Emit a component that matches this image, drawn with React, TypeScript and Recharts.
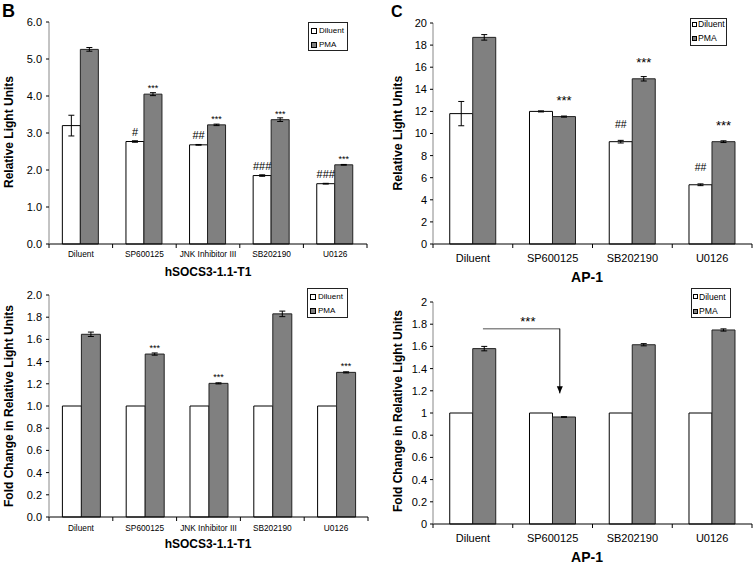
import React from 'react';
import { BarChart, Bar, XAxis, YAxis, ErrorBar, LabelList, ReferenceLine, ReferenceDot } from 'recharts';

// ---------- Panel B data ----------
const categoriesB = ['Diluent', 'SP600125', 'JNK Inhibitor III', 'SB202190', 'U0126'];
const rluDiluentB = [3.2, 2.77, 2.68, 1.85, 1.63];
const rluDiluentErrB = [0.28, 0.02, 0.01, 0.02, 0.01];
const rluPmaB = [5.26, 4.05, 3.22, 3.36, 2.14];
const rluPmaErrB = [0.05, 0.04, 0.02, 0.05, 0.01];
const rluSigDiluentB = ['', '#', '##', '###', '###'];
const rluSigPmaB = ['', '***', '***', '***', '***'];
const rluTicksB = [0, 1, 2, 3, 4, 5, 6];

const foldDiluentB = [1, 1, 1, 1, 1];
const foldPmaB = [1.646, 1.468, 1.204, 1.83, 1.303];
const foldPmaErrB = [0.02, 0.01, 0.005, 0.025, 0.005];
const foldSigPmaB = ['', '***', '***', '', '***'];
const foldTicks = [0, 0.2, 0.4, 0.6, 0.8, 1.0, 1.2, 1.4, 1.6, 1.8, 2.0];

// ---------- Panel C data ----------
const categoriesC = ['Diluent', 'SP600125', 'SB202190', 'U0126'];
const rluDiluentC = [11.8, 12.0, 9.26, 5.36];
const rluDiluentErrC = [1.1, 0.05, 0.12, 0.08];
const rluPmaC = [18.7, 11.53, 14.95, 9.26];
const rluPmaErrC = [0.25, 0.05, 0.2, 0.08];
const rluSigDiluentC = ['', '', '##', '##'];
const rluSigPmaC = ['', '***', '***', '***'];
const rluTicksC = [0, 2, 4, 6, 8, 10, 12, 14, 16, 18, 20];

const foldDiluentC = [1, 1, 1, 1];
const foldPmaC = [1.58, 0.964, 1.615, 1.748];
const foldPmaErrC = [0.02, 0.003, 0.01, 0.01];
// bracket annotation: from the Diluent/PMA bar to the SP600125 group
const bracketFromCat = 'Diluent';
const bracketToCat = 'SP600125';
const bracketY = 1.76;
const arrowTipY = 1.177;
const bracketText = '***';

const FONT = '"Liberation Sans", Arial, Helvetica, sans-serif';
const PMA_FILL = '#808080';
const CAT_GAP = 0.21;

const rowsRluB = categoriesB.map((name, i) => ({
  name, dil: rluDiluentB[i], dilErr: rluDiluentErrB[i], pma: rluPmaB[i], pmaErr: rluPmaErrB[i],
  dilSig: rluSigDiluentB[i], pmaSig: rluSigPmaB[i],
}));
const rowsFoldB = categoriesB.map((name, i) => ({
  name, dil: foldDiluentB[i], pma: foldPmaB[i], pmaErr: foldPmaErrB[i], pmaSig: foldSigPmaB[i],
}));
const rowsRluC = categoriesC.map((name, i) => ({
  name, dil: rluDiluentC[i], dilErr: rluDiluentErrC[i], pma: rluPmaC[i], pmaErr: rluPmaErrC[i],
  dilSig: rluSigDiluentC[i], pmaSig: rluSigPmaC[i],
}));
const rowsFoldC = categoriesC.map((name, i) => ({
  name, dil: foldDiluentC[i], pma: foldPmaC[i], pmaErr: foldPmaErrC[i],
}));

function makeCategoryTick(band: number, fontSize: number, dy: number, count: number) {
  return (props: any) => {
    const { x, y, payload, index } = props;
    const left = x - band / 2;
    const right = x + band / 2;
    return (
      <g>
        <line x1={left} y1={y} x2={left} y2={y + 4} stroke="#000" strokeWidth={1} />
        {index === count - 1 ? <line x1={right} y1={y} x2={right} y2={y + 4} stroke="#000" strokeWidth={1} /> : null}
        <text x={x} y={y + dy} textAnchor="middle" fontSize={fontSize} fontFamily={FONT} fill="#000">
          {payload.value}
        </text>
      </g>
    );
  };
}

function LegendBox({ left, top, width, height, fontSize, rows, pad, sq, gap }: any) {
  return (
    <div style={{
      position: 'absolute', left, top, width, height, border: '1px solid #222', boxSizing: 'border-box',
      background: '#fff', fontFamily: FONT, fontSize, color: '#000',
    }}>
      {[{ label: 'Diluent', fill: '#fff' }, { label: 'PMA', fill: PMA_FILL }].map((it, i) => (
        <div key={it.label} style={{ position: 'absolute', left: pad, top: rows[i] - fontSize / 2 - 2, display: 'flex', alignItems: 'center', lineHeight: `${fontSize + 2}px`, whiteSpace: 'nowrap' }}>
          <span style={{ display: 'inline-block', width: sq, height: sq, border: '1px solid #000', background: it.fill, marginRight: gap }} />
          <span>{it.label}</span>
        </div>
      ))}
    </div>
  );
}

function AxisTitleX({ x, y, text, size }: any) {
  return (
    <div style={{ position: 'absolute', left: x - 100, top: y - size / 2 - 1, width: 200, textAlign: 'center', fontFamily: FONT, fontWeight: 'bold', fontSize: size, lineHeight: `${size + 2}px` }}>{text}</div>
  );
}
function AxisTitleY({ x, y, text, size }: any) {
  return (
    <div style={{ position: 'absolute', left: x - 150, top: y - size / 2 - 1, width: 300, textAlign: 'center', fontFamily: FONT, fontWeight: 'bold', fontSize: size, lineHeight: `${size + 2}px`, transform: 'rotate(-90deg)', transformOrigin: '50% 50%', whiteSpace: 'nowrap' }}>{text}</div>
  );
}

const yTick = { fontSize: 11, fill: '#000', fontFamily: FONT };

export default function App() {
  const bandB = 318 / categoriesB.length;
  const bandC = 319 / categoriesC.length;
  // horizontal offset of the PMA bar centre from its category centre
  const pmaShiftC = bandC * (0.5 - CAT_GAP) / 2;
  const arrowShiftC = bandC * 0.09;
  return (
    <div style={{ position: 'absolute', left: 0, top: 0, width: 753, height: 564, background: '#fff', fontFamily: FONT, overflow: 'hidden' }}>
      {/* Top-left: B, RLU */}
      <div style={{ position: 'absolute', left: 0, top: 0 }}>
        <BarChart width={376} height={282} data={rowsRluB} margin={{ top: 22, right: 9, left: 9, bottom: 0 }} barCategoryGap={`${CAT_GAP * 100}%`} barGap={0}>
          <XAxis dataKey="name" height={38} interval={0} tickLine={false} tickSize={0} tickMargin={0} axisLine={{ stroke: '#000' }}
            tick={makeCategoryTick(bandB, 8.3, 13, categoriesB.length)} />
          <YAxis width={40} domain={[0, 6]} ticks={rluTicksB} interval={0} tickFormatter={(v: number) => v.toFixed(1)}
            tick={yTick} tickSize={3} tickMargin={4} axisLine={{ stroke: '#888' }} tickLine={{ stroke: '#000' }} />
          <Bar dataKey="dil" fill="#fff" stroke="#000" strokeWidth={1} isAnimationActive={false}>
            <ErrorBar dataKey="dilErr" width={3} stroke="#000" strokeWidth={1} />
            <LabelList dataKey="dilSig" position="top" offset={6} fill="#000" fontSize={11} fontFamily={FONT} />
          </Bar>
          <Bar dataKey="pma" fill={PMA_FILL} stroke="#222" strokeWidth={1} isAnimationActive={false}>
            <ErrorBar dataKey="pmaErr" width={3} stroke="#000" strokeWidth={1} />
            <LabelList dataKey="pmaSig" position="top" offset={3} fill="#000" fontSize={9} fontFamily={FONT} />
          </Bar>
        </BarChart>
      </div>
      {/* Bottom-left: B, fold */}
      <div style={{ position: 'absolute', left: 0, top: 270 }}>
        <BarChart width={376} height={294} data={rowsFoldB} margin={{ top: 25, right: 8, left: 9, bottom: 0 }} barCategoryGap={`${CAT_GAP * 100}%`} barGap={0}>
          <XAxis dataKey="name" height={47} interval={0} tickLine={false} tickSize={0} tickMargin={0} axisLine={{ stroke: '#000' }}
            tick={makeCategoryTick(bandB + 0.2, 8.3, 13.5, categoriesB.length)} />
          <YAxis width={40} domain={[0, 2]} ticks={foldTicks} interval={0} tickFormatter={(v: number) => v.toFixed(1)}
            tick={yTick} tickSize={3} tickMargin={4} axisLine={{ stroke: '#888' }} tickLine={{ stroke: '#000' }} />
          <Bar dataKey="dil" fill="#fff" stroke="#000" strokeWidth={1} isAnimationActive={false} />
          <Bar dataKey="pma" fill={PMA_FILL} stroke="#222" strokeWidth={1} isAnimationActive={false}>
            <ErrorBar dataKey="pmaErr" width={3} stroke="#000" strokeWidth={1} />
            <LabelList dataKey="pmaSig" position="top" offset={3} fill="#000" fontSize={9} fontFamily={FONT} />
          </Bar>
        </BarChart>
      </div>
      {/* Top-right: C, RLU */}
      <div style={{ position: 'absolute', left: 376, top: 0 }}>
        <BarChart width={377} height={282} data={rowsRluC} margin={{ top: 23, right: 1, left: 9, bottom: 0 }} barCategoryGap={`${CAT_GAP * 100}%`} barGap={0}>
          <XAxis dataKey="name" height={38} interval={0} tickLine={false} tickSize={0} tickMargin={0} axisLine={{ stroke: '#000' }}
            tick={makeCategoryTick(bandC, 11, 18, categoriesC.length)} />
          <YAxis width={48} domain={[0, 20]} ticks={rluTicksC} interval={0}
            tick={yTick} tickSize={3} tickMargin={3} axisLine={{ stroke: '#888' }} tickLine={{ stroke: '#000' }} />
          <Bar dataKey="dil" fill="#fff" stroke="#000" strokeWidth={1} isAnimationActive={false}>
            <ErrorBar dataKey="dilErr" width={3} stroke="#000" strokeWidth={1} />
            <LabelList dataKey="dilSig" position="top" offset={14} fill="#000" fontSize={10.5} fontFamily={FONT} />
          </Bar>
          <Bar dataKey="pma" fill={PMA_FILL} stroke="#222" strokeWidth={1} isAnimationActive={false}>
            <ErrorBar dataKey="pmaErr" width={3} stroke="#000" strokeWidth={1} />
            <LabelList dataKey="pmaSig" position="top" offset={12} fill="#000" fontSize={13} fontFamily={FONT} />
          </Bar>
        </BarChart>
      </div>
      {/* Bottom-right: C, fold */}
      <div style={{ position: 'absolute', left: 376, top: 270 }}>
        <BarChart width={377} height={294} data={rowsFoldC} margin={{ top: 32, right: 1, left: 9, bottom: 0 }} barCategoryGap={`${CAT_GAP * 100}%`} barGap={0}>
          <XAxis dataKey="name" height={40} interval={0} tickLine={false} tickSize={0} tickMargin={0} axisLine={{ stroke: '#000' }}
            tick={makeCategoryTick(bandC, 11, 18, categoriesC.length)} />
          <YAxis width={48} domain={[0, 2]} ticks={foldTicks} interval={0}
            tick={yTick} tickSize={3} tickMargin={3} axisLine={{ stroke: '#888' }} tickLine={{ stroke: '#000' }} />
          <Bar dataKey="dil" fill="#fff" stroke="#000" strokeWidth={1} isAnimationActive={false} />
          <Bar dataKey="pma" fill={PMA_FILL} stroke="#222" strokeWidth={1} isAnimationActive={false}>
            <ErrorBar dataKey="pmaErr" width={3} stroke="#000" strokeWidth={1} />
          </Bar>
          <ReferenceLine segment={[{ x: bracketFromCat, y: bracketY }, { x: bracketToCat, y: bracketY }]} ifOverflow="visible"
            shape={(p: any) => <line x1={p.x1 + pmaShiftC - 1.5} y1={p.y1} x2={p.x2 + arrowShiftC} y2={p.y2} stroke="#8a8a8a" strokeWidth={1.5} />} />
          <ReferenceLine segment={[{ x: bracketToCat, y: bracketY }, { x: bracketToCat, y: arrowTipY }]} ifOverflow="visible"
            shape={(p: any) => <line x1={p.x1 + arrowShiftC} y1={p.y1} x2={p.x2 + arrowShiftC} y2={p.y2} stroke="#000" strokeWidth={1} />} />
          <ReferenceDot x={bracketToCat} y={arrowTipY} r={1} ifOverflow="visible"
            shape={(p: any) => <path d={`M${p.cx + arrowShiftC - 3},${p.cy - 7} L${p.cx + arrowShiftC + 3},${p.cy - 7} L${p.cx + arrowShiftC},${p.cy} Z`} fill="#000" />} />
          <ReferenceDot x={bracketFromCat} y={bracketY} r={1} ifOverflow="visible"
            shape={(p: any) => <text x={p.cx + bandC * 0.69} y={p.cy - 3} textAnchor="middle" fontSize={13} fontFamily={FONT} fill="#000">{bracketText}</text>} />
        </BarChart>
      </div>

      {/* Legends */}
      <LegendBox left={308} top={22} width={40} height={29} fontSize={8} rows={[9.3, 22.7]} pad={2} sq={4} gap={2} />
      <LegendBox left={307} top={288} width={41} height={30} fontSize={8} rows={[9, 23.4]} pad={2} sq={4} gap={2} />
      <LegendBox left={690} top={18} width={37} height={28} fontSize={8.6} rows={[6.7, 20.3]} pad={1} sq={3} gap={1} />
      <LegendBox left={691} top={288} width={40} height={30} fontSize={8.6} rows={[9, 23.4]} pad={1} sq={3} gap={1} />

      {/* Axis titles */}
      <AxisTitleX x={208} y={272} text="hSOCS3-1.1-T1" size={12} />
      <AxisTitleX x={208} y={543.5} text="hSOCS3-1.1-T1" size={12} />
      <AxisTitleX x={587} y={277} text="AP-1" size={14} />
      <AxisTitleX x={587} y={556.5} text="AP-1" size={14} />
      <AxisTitleY x={9} y={132} text="Relative Light Units" size={12} />
      <AxisTitleY x={9} y={405.5} text="Fold Change in Relative Light Units" size={12} />
      <AxisTitleY x={397.5} y={133} text="Relative Light Units" size={12.3} />
      <AxisTitleY x={397.5} y={411} text="Fold Change in Relative Light Units" size={12} />

      {/* Panel letters */}
      <div style={{ position: 'absolute', left: 2, top: 2, fontFamily: FONT, fontWeight: 'bold', fontSize: 18, lineHeight: '18px' }}>B</div>
      <div style={{ position: 'absolute', left: 391, top: 4, fontFamily: FONT, fontWeight: 'bold', fontSize: 16, lineHeight: '16px' }}>C</div>
    </div>
  );
}
